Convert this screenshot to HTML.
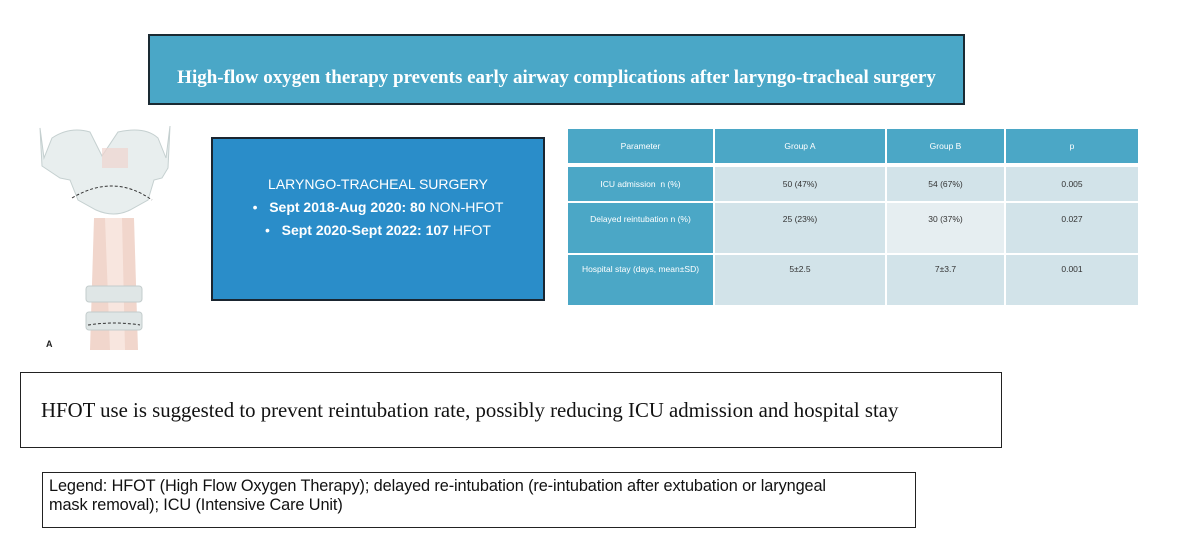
<!DOCTYPE html>
<html><head><meta charset="utf-8"><style>
body{margin:0;width:1200px;height:559px;background:#fff;position:relative;overflow:hidden;font-family:"Liberation Sans",sans-serif}
.abs{position:absolute;box-sizing:border-box}
#title{left:148px;top:34px;width:817px;height:71px;background:#4aa7c7;border:2px solid #1a2a33;color:#fff;font-family:"Liberation Serif",serif;font-weight:bold;font-size:19px;display:flex;align-items:center;justify-content:center;padding-top:16px}
#cohort{left:211px;top:137px;width:334px;height:164px;background:#2a8dc9;border:2px solid #1a2530;color:#fff;font-size:14px;text-align:center;padding-top:34px;line-height:23px}
#summary{left:20px;top:372px;width:982px;height:76px;border:1.5px solid #222;font-family:"Liberation Serif",serif;font-size:20.8px;padding:26px 0 0 20px;color:#111}
#legend{left:42px;top:472px;width:874px;height:56px;border:1.5px solid #222;font-size:16.3px;padding:4px 0 0 6px;line-height:19px;color:#111;letter-spacing:-0.1px}
.cell{position:absolute;box-sizing:border-box;font-size:8.5px;text-align:center;color:#333}
.hd{background:#4ba7c6;color:#fff}
.lab{background:#4ba7c6;color:#fff}
.d{background:#d2e3e9}
.l{background:#e6eef1}
</style></head><body>
<div id="title" class="abs">High-flow oxygen therapy prevents early airway complications after laryngo-tracheal surgery</div>

<svg class="abs" style="left:30px;top:118px" width="150" height="240">
<path d="M64 100 L60 232 L108 232 L104 100 Z" fill="#f1d6cc"/>
<path d="M75 100 L80 232 L95 232 L92 100Z" fill="#f8e6df"/>
<rect x="56" y="168" width="56" height="16" rx="3" fill="#dfe6e6" stroke="#c3cccc"/>
<rect x="56" y="194" width="56" height="18" rx="3" fill="#dfe6e6" stroke="#c3cccc"/>
<path d="M58 207 Q84 203 110 207" stroke="#333" stroke-dasharray="3,2" fill="none"/>
<path d="M10 10 L14 40 L22 20 Q40 8 60 14 L72 38 L88 14 Q115 8 128 20 L136 40 L140 8 L138 50 L132 60 L124 62 L118 82 L100 92 Q84 100 66 92 L48 82 L40 62 L30 60 L12 48 Z" fill="#e8eeee" stroke="#c5d0d0"/>
<rect x="72" y="30" width="26" height="20" fill="#f0d4cf" opacity=".7"/>
<path d="M42 80 Q84 55 122 82" stroke="#333" stroke-dasharray="3,2" fill="none"/>
<text x="16" y="229" font-size="9" font-weight="bold" fill="#222" font-family="Liberation Sans">A</text>
</svg>

<div id="cohort" class="abs">
<div>LARYNGO-TRACHEAL SURGERY</div>
<div>•&nbsp;&nbsp;&nbsp;<b>Sept 2018-Aug 2020: 80</b> NON-HFOT</div>
<div>•&nbsp;&nbsp;&nbsp;<b>Sept 2020-Sept 2022: 107</b> HFOT</div>
</div>

<div class="abs" style="left:0;top:0">
<div class="cell hd" style="left:568px;top:129px;width:145px;height:34px;line-height:34px">Parameter</div>
<div class="cell hd" style="left:715px;top:129px;width:170px;height:34px;line-height:34px">Group A</div>
<div class="cell hd" style="left:887px;top:129px;width:117px;height:34px;line-height:34px">Group B</div>
<div class="cell hd" style="left:1006px;top:129px;width:132px;height:34px;line-height:34px">p</div>

<div class="cell lab" style="left:568px;top:167px;width:145px;height:34px;padding-top:12px">ICU admission&nbsp; n (%)</div>
<div class="cell d" style="left:715px;top:167px;width:170px;height:34px;padding-top:12px">50 (47%)</div>
<div class="cell d" style="left:887px;top:167px;width:117px;height:34px;padding-top:12px">54 (67%)</div>
<div class="cell d" style="left:1006px;top:167px;width:132px;height:34px;padding-top:12px">0.005</div>

<div class="cell lab" style="left:568px;top:203px;width:145px;height:50px;padding-top:11px">Delayed reintubation n (%)</div>
<div class="cell d" style="left:715px;top:203px;width:170px;height:50px;padding-top:11px">25 (23%)</div>
<div class="cell l" style="left:887px;top:203px;width:117px;height:50px;padding-top:11px">30 (37%)</div>
<div class="cell d" style="left:1006px;top:203px;width:132px;height:50px;padding-top:11px">0.027</div>

<div class="cell lab" style="left:568px;top:255px;width:145px;height:50px;padding-top:9px">Hospital stay (days, mean±SD)</div>
<div class="cell d" style="left:715px;top:255px;width:170px;height:50px;padding-top:9px">5±2.5</div>
<div class="cell d" style="left:887px;top:255px;width:117px;height:50px;padding-top:9px">7±3.7</div>
<div class="cell d" style="left:1006px;top:255px;width:132px;height:50px;padding-top:9px">0.001</div>
</div>

<div id="summary" class="abs">HFOT use is suggested to prevent reintubation rate, possibly reducing ICU admission and hospital stay</div>
<div id="legend" class="abs">Legend: HFOT (High Flow Oxygen Therapy); delayed re-intubation (re-intubation after extubation or laryngeal<br>mask removal); ICU (Intensive Care Unit)</div>
</body></html>
